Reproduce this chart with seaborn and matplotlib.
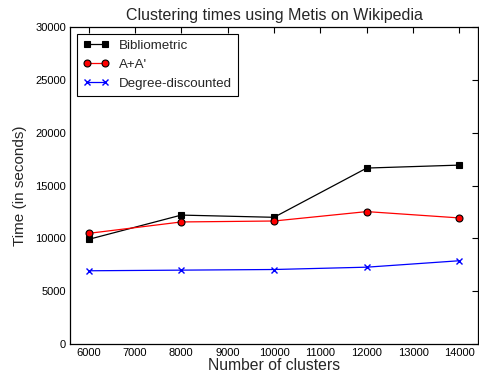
import matplotlib
matplotlib.use("Agg")
import matplotlib.pyplot as plt
import seaborn as sns
import pandas as pd

clusters = [6000, 8000, 10000, 12000, 14000]
bibliometric = [9900, 12200, 11990, 16650, 16930]
aa = [10470, 11550, 11640, 12530, 11930]
degree = [6930, 6990, 7050, 7270, 7880]

sns.set_style("white")
plt.rcParams['font.family'] = ['Liberation Sans', 'DejaVu Sans']

df = pd.DataFrame({
    "clusters": clusters * 3,
    "time": bibliometric + aa + degree,
    "method": ["Bibliometric"] * 5 + ["A+A'"] * 5 + ["Degree-discounted"] * 5,
})

fig = plt.figure(figsize=(4.79, 3.79), dpi=100)
ax = fig.add_axes([70/479, 35/379, 408/479, 317/379])

styles = {
    "Bibliometric": dict(color="black", marker="s", mfc="black", mec="black", ms=5),
    "A+A'": dict(color="red", marker="o", mfc="red", mec="black", ms=5),
    "Degree-discounted": dict(color="blue", marker="x", mfc="blue", mec="blue", ms=5),
}
for name, st in styles.items():
    sub = df[df.method == name]
    sns.lineplot(data=sub, x="clusters", y="time", ax=ax, label=name,
                 color=st["color"], marker=st["marker"], markerfacecolor=st["mfc"],
                 markeredgecolor=st["mec"], markersize=st["ms"], linewidth=0.9,
                 markeredgewidth=0.8 if st["marker"] != "x" else 1.0)

ax.set_xlim(5600, 14400)
ax.set_ylim(0, 30000)
ax.set_xticks(range(6000, 14001, 1000))
ax.set_yticks(range(0, 30001, 5000))
ax.tick_params(direction="in", top=True, right=True, length=4, width=0.8,
               labelsize=8, colors="black", pad=3)
for s in ax.spines.values():
    s.set_color("black")
    s.set_linewidth(0.9)
ax.set_xlabel("Number of clusters", fontsize=11.3, labelpad=0)
ax.set_ylabel("Time (in seconds)", fontsize=11, labelpad=6)
ax.set_title("Clustering times using Metis on Wikipedia", fontsize=11.5, pad=5)
leg = ax.legend(loc="upper left", frameon=True, fancybox=False, fontsize=9.6,
                edgecolor="black", framealpha=1, borderaxespad=0.5,
                handlelength=2.0, handletextpad=0.7, labelspacing=0.5,
                numpoints=2, borderpad=0.45)
leg.get_frame().set_linewidth(0.8)
fig.savefig("out.png", dpi=100)
